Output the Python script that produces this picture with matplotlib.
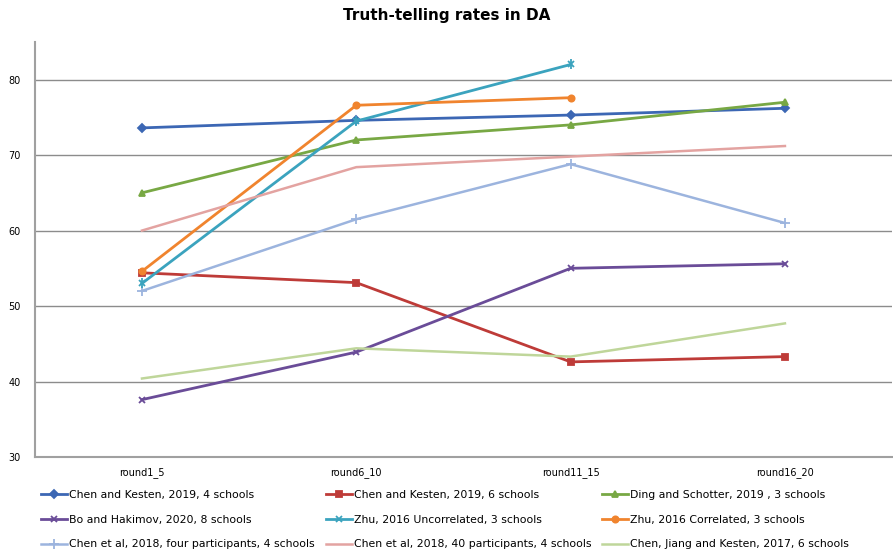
import numpy as np
import matplotlib
matplotlib.use("Agg")
import matplotlib.pyplot as plt

rounds = ["round1_5", "round6_10", "round11_15", "round16_20"]

chen_kesten_4 = [73.6, 74.6, 75.3, 76.2]
chen_kesten_6 = [54.4, 53.1, 42.6, 43.3]
ding_schotter = [65.0, 72.0, 74.0, 77.0]
bo_hakimov = [37.6, 43.9, 55.0, 55.6]
zhu_uncorr = [53.0, 74.5, 82.0, np.nan]
zhu_corr = [54.6, 76.6, 77.6, np.nan]
chen_four = [52.0, 61.5, 68.8, 61.0]
chen_forty = [60.0, 68.4, 69.8, 71.2]
chen_jiang_kesten = [40.4, 44.4, 43.3, 47.7]

labels = [
    "Chen and Kesten, 2019, 4 schools",
    "Chen and Kesten, 2019, 6 schools",
    "Ding and Schotter, 2019 , 3 schools",
    "Bo and Hakimov, 2020, 8 schools",
    "Zhu, 2016 Uncorrelated, 3 schools",
    "Zhu, 2016 Correlated, 3 schools",
    "Chen et al, 2018, four participants, 4 schools",
    "Chen et al, 2018, 40 participants, 4 schools",
    "Chen, Jiang and Kesten, 2017, 6 schools",
]
series = [chen_kesten_4, chen_kesten_6, ding_schotter, bo_hakimov, zhu_uncorr,
          zhu_corr, chen_four, chen_forty, chen_jiang_kesten]
colors = ["#3C67B4", "#BE3B38", "#78A844", "#6A4C98", "#3BA3BE", "#F0842E",
          "#9CB4DE", "#E3A3A1", "#BFD69A"]
markers = ["D", "s", "^", "x", "x", "o", "+", None, None]
widths = [2, 2, 2, 2, 2, 2, 1.8, 1.8, 1.8]

fig = plt.figure(figsize=(8.93, 5.58), dpi=100)
ax = fig.add_axes([0.039, 0.181, 0.96, 0.744])

x = np.arange(len(rounds))
handles = []
for vals, lab, c, m, w in zip(series, labels, colors, markers, widths):
    h, = ax.plot(x, vals, color=c, marker=m, markersize=4.5 if m != "+" else 7,
                 linewidth=w, markeredgewidth=1.3, label=lab)
    handles.append(h)
# star marker for Zhu uncorrelated: add vertical bar
ax.plot(x, zhu_uncorr, color=colors[4], marker="|", markersize=7, linestyle="none",
        markeredgewidth=1.3)

ax.set_xlim(-0.5, 3.5)
ax.set_ylim(30, 85)
ax.set_yticks([30, 40, 50, 60, 70, 80])
ax.set_xticks(x)
ax.set_xticklabels(rounds, fontsize=7)
ax.tick_params(axis="y", labelsize=7, length=0, pad=10)
ax.tick_params(axis="x", length=0, pad=7)
ax.grid(axis="y", color="#8C8C8C", linewidth=1)
ax.set_axisbelow(True)
for s in ["top", "right"]:
    ax.spines[s].set_visible(False)
ax.spines["left"].set_color("#A0A0A0")
ax.spines["left"].set_linewidth(1.5)
ax.spines["bottom"].set_color("#A0A0A0")
ax.spines["bottom"].set_linewidth(1.5)

fig.suptitle("Truth-telling rates in DA", fontsize=11, fontweight="bold", y=0.985)

order = [0, 3, 6, 1, 4, 7, 2, 5, 8]
fig.legend([handles[i] for i in order], [labels[i] for i in order], ncol=3,
           loc="lower left", bbox_to_anchor=(0.035, -0.002), frameon=False,
           fontsize=7.8, handlelength=2.4, handletextpad=0.2, columnspacing=1.0,
           labelspacing=1.35)

fig.savefig("out.png", dpi=100)
